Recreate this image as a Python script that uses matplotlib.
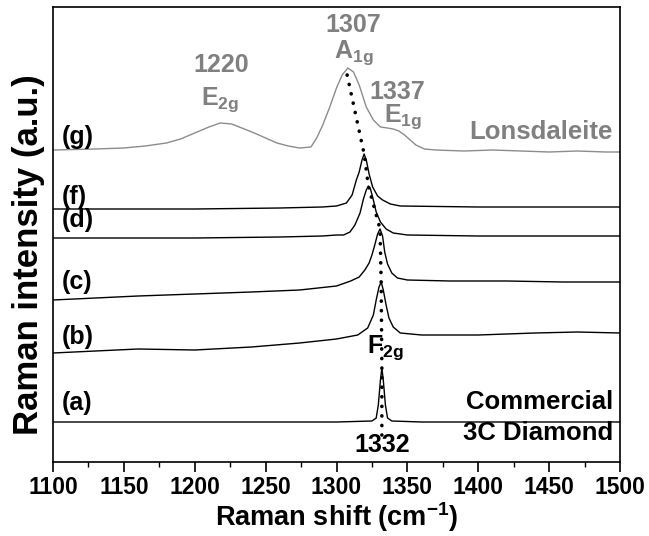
import matplotlib
matplotlib.use('Agg')
import matplotlib.pyplot as plt
from matplotlib.ticker import MultipleLocator

# Raman spectra of the diamond samples, stacked (a.u.)
g_shift = [1100, 1130, 1150, 1165, 1180, 1190, 1200, 1210, 1218, 1226, 1235, 1242, 1250, 1258, 1266,
           1274, 1282, 1286, 1290, 1295, 1300, 1304, 1308, 1312, 1316, 1321, 1326, 1331, 1336, 1340,
           1344, 1348, 1352, 1356, 1362, 1370, 1390, 1410, 1430, 1450, 1470, 1490, 1500]
g_int = [312, 313, 314, 316, 319, 323, 329, 335, 339, 338, 333, 329, 324, 319, 316,
         314, 315, 324, 336, 354, 374, 387, 394, 390, 377, 355, 342, 335, 334, 333,
         331, 327, 322, 317, 313, 312, 311, 312, 311, 310, 311, 310, 310]

f_shift = [1100, 1200, 1260, 1290, 1300, 1307, 1311, 1314, 1316, 1318, 1319.5, 1321, 1323, 1325.5,
           1329, 1332.5, 1338, 1345, 1400, 1450, 1500]
f_int = [253, 253, 254, 255, 256, 259, 267, 282, 290, 302, 308, 302, 288, 275,
         266, 262, 258, 256, 255, 255, 255]

d_shift = [1100, 1200, 1260, 1290, 1300, 1305, 1309.5, 1313, 1316.6, 1319, 1321, 1322.5, 1324, 1326,
           1328, 1331, 1335, 1340, 1350, 1400, 1500]
d_int = [224, 224, 225, 226, 227, 227, 230, 237, 249, 263, 272, 276, 273, 262,
         250, 240, 233, 229, 227, 226, 226]

c_shift = [1100, 1130, 1160, 1200, 1240, 1274, 1300, 1310, 1316, 1320, 1323, 1325, 1327, 1329,
           1330.7, 1332.5, 1334, 1336, 1339, 1343, 1350, 1380, 1420, 1460, 1500]
c_int = [162, 164, 166, 168, 170, 172, 176, 181, 185, 192, 199, 207, 217, 228,
         233, 226, 210, 198, 189, 184, 182, 181, 181, 180, 180]

b_shift = [1100, 1130, 1160, 1200, 1240, 1274, 1300, 1315, 1322, 1326, 1328, 1330, 1331.5, 1333,
           1335, 1337, 1340, 1345, 1360, 1400, 1440, 1470, 1500]
b_int = [109, 111, 113, 112, 115, 119, 123, 127, 134, 147, 162, 175, 180, 172,
         157, 144, 135, 129, 127, 127, 129, 130, 129]

a_shift = [1100, 1300, 1325, 1328, 1329.5, 1331, 1332, 1333, 1334.5, 1336, 1339, 1360, 1500]
a_int = [40, 40, 41, 44, 57, 82, 94, 82, 57, 44, 41, 40, 40]

# peak position trend (dotted guide)
peak_shift = [1307.5, 1319.5, 1322.5, 1330.7, 1331.5, 1332, 1332]
peak_int = [387, 308, 276, 233, 180, 94, 27]

sample_labels = ['(g)', '(f)', '(d)', '(c)', '(b)', '(a)']
label_y = [325, 265, 242, 180, 125, 59]

plt.rcParams['font.family'] = ['Liberation Sans', 'DejaVu Sans']
plt.rcParams['font.weight'] = 'bold'
plt.rcParams['mathtext.fontset'] = 'custom'
plt.rcParams['mathtext.rm'] = 'Liberation Sans:bold'
plt.rcParams['mathtext.default'] = 'rm'

fig = plt.figure(figsize=(6.49, 5.36), dpi=100)
ax = fig.add_axes([53 / 649, 74 / 536, 567 / 649, 455 / 536])

grey = '#808080'
ax.plot(g_shift, g_int, color='#8c8c8c', lw=1.0)
for xs, ys in [(f_shift, f_int), (d_shift, d_int), (c_shift, c_int), (b_shift, b_int), (a_shift, a_int)]:
    ax.plot(xs, ys, color='black', lw=1.0)
ax.plot(peak_shift, peak_int, color='black', lw=2.6, linestyle=(0, (0.05, 2.6)),
        dash_capstyle='round')

for lab, y in zip(sample_labels, label_y):
    ax.text(1106, y, lab, fontsize=18, fontweight='bold', va='center', ha='left')

ax.text(1219, 397, '1220', color=grey, fontsize=18, fontweight='bold', ha='center', va='center')
ax.text(1218, 362, r'E$_{2g}$', color=grey, fontsize=18, fontweight='bold', ha='center', va='center')
ax.text(1311.6, 437, '1307', color=grey, fontsize=18, fontweight='bold', ha='center', va='center')
ax.text(1312, 409, r'A$_{1g}$', color=grey, fontsize=18, fontweight='bold', ha='center', va='center')
ax.text(1343, 370, '1337', color=grey, fontsize=18, fontweight='bold', ha='center', va='center')
ax.text(1347, 345, r'E$_{1g}$', color=grey, fontsize=18, fontweight='bold', ha='center', va='center')
ax.text(1495, 330, 'Lonsdaleite', color=grey, fontsize=18.5, fontweight='bold', ha='right', va='center')

ax.text(1321.5, 114, r'F$_{2g}$', fontsize=18, fontweight='bold', ha='left', va='center')
ax.text(1495, 60, 'Commercial', fontsize=18.5, fontweight='bold', ha='right', va='center')
ax.text(1495, 29, '3C Diamond', fontsize=18.5, fontweight='bold', ha='right', va='center')
ax.text(1332, 17, '1332', fontsize=18, fontweight='bold', ha='center', va='center')

ax.set_xlim(1100, 1500)
ax.set_ylim(0, 455)
ax.set_yticks([])
ax.xaxis.set_major_locator(MultipleLocator(50))
ax.xaxis.set_minor_locator(MultipleLocator(25))
ax.tick_params(axis='x', which='major', direction='out', length=7, width=1.2, labelsize=16.5, pad=3)
ax.tick_params(axis='x', which='minor', direction='out', length=3.5, width=1.0)
for lab in ax.get_xticklabels():
    lab.set_fontweight('bold')
for sp in ax.spines.values():
    sp.set_linewidth(1.2)

ax.set_xlabel(r'Raman shift (cm$^{-1}$)', fontsize=19.5, fontweight='bold', labelpad=1)
ax.set_ylabel('Raman intensity (a.u.)', fontsize=25, fontweight='bold')
ax.yaxis.set_label_coords(-0.014, 0.455)

fig.savefig('out.png', dpi=100)
